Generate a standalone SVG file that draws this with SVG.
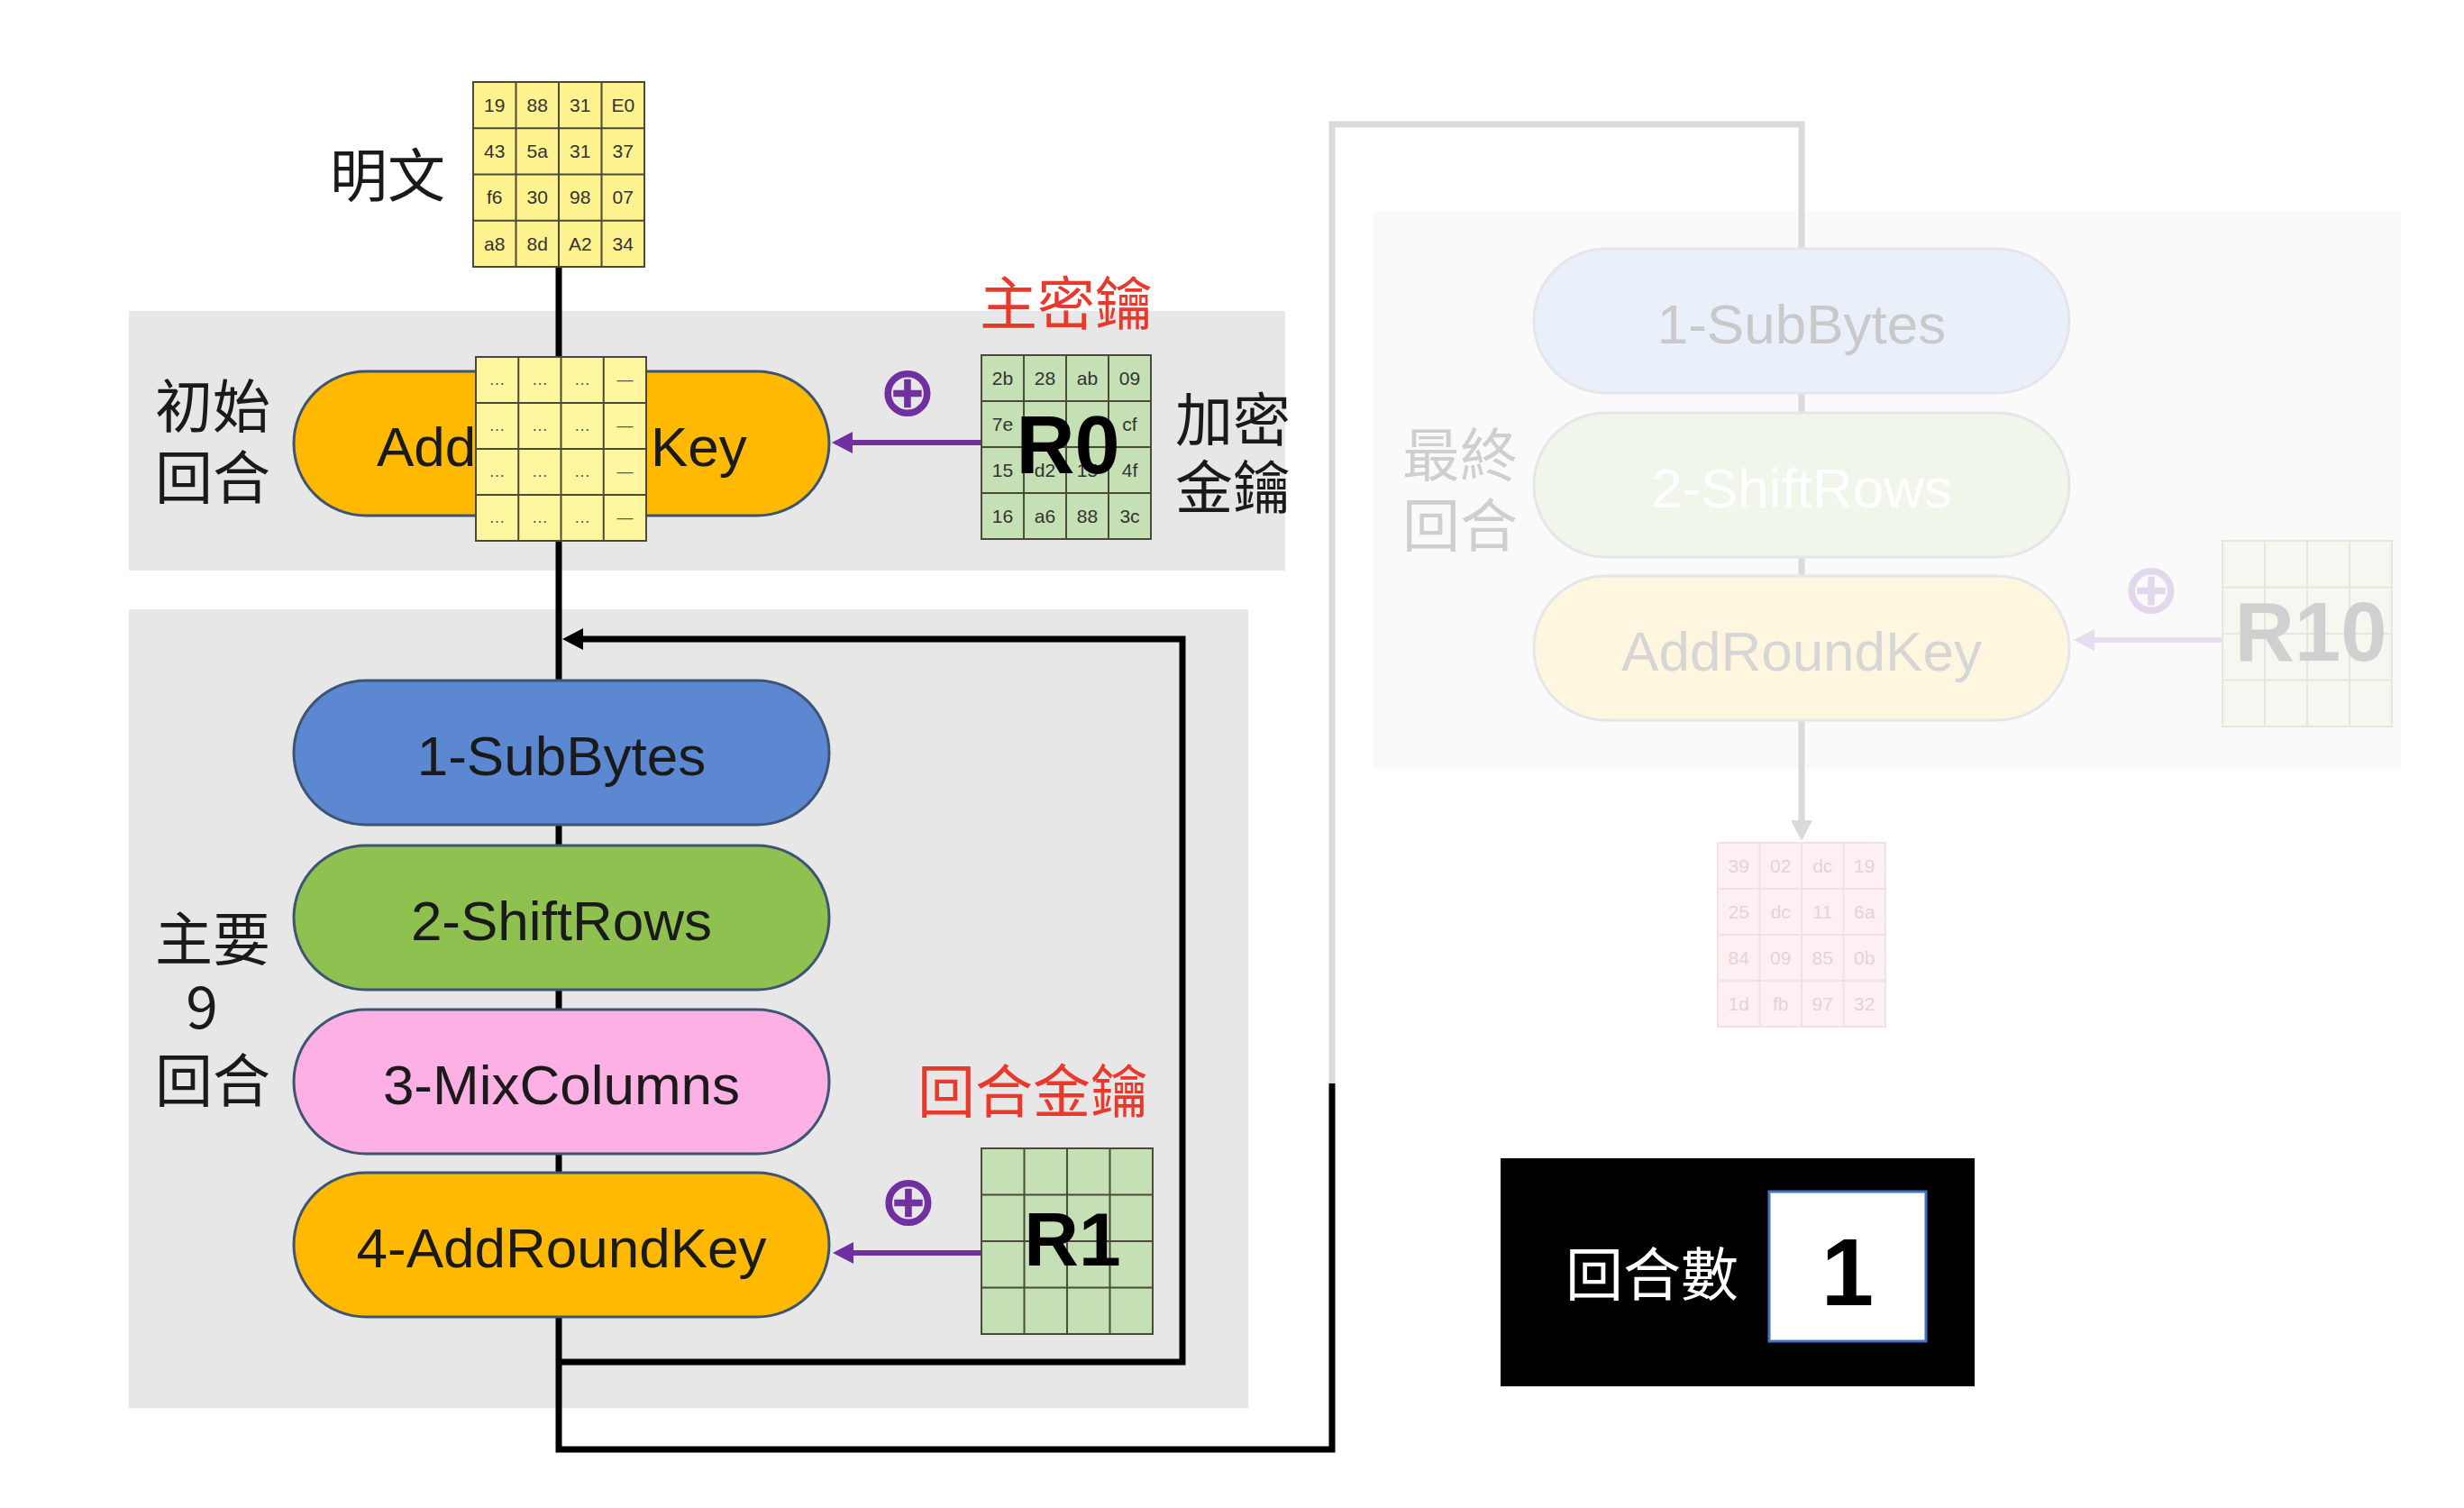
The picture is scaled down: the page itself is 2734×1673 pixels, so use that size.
<svg xmlns="http://www.w3.org/2000/svg" width="2734" height="1673" viewBox="0 0 2734 1673">
<defs>
<style>
.cjk{font-family:"Noto Sans CJK TC","Noto Sans CJK SC",sans-serif;font-size:64px;fill:#1a1a1a}
.red{fill:#E8392C}
.lbl{font-family:"Liberation Sans",Arial,sans-serif;font-size:62px;text-anchor:middle;fill:#1a1a1a}
.cell{font-family:"Liberation Sans",Arial,sans-serif;font-size:21px;text-anchor:middle;fill:#333}
.big{font-family:"Liberation Sans",Arial,sans-serif;font-weight:bold;text-anchor:middle;fill:#000}
.xor{font-family:"DejaVu Sans",sans-serif;font-weight:bold;font-size:78px;text-anchor:middle;fill:#7030A0}
.gl{stroke:#4a4a3a;stroke-width:2;fill:none}
.pill{stroke:#3D5573;stroke-width:3}
.fpill{stroke:#E4E6EA;stroke-width:3}
.blk{fill:none;stroke:#000;stroke-width:7}
.gry{fill:none;stroke:#DADADA;stroke-width:7}
.pur{fill:none;stroke:#7030A0;stroke-width:6}
.fpur{fill:none;stroke:#E6DEF0;stroke-width:6}
</style>
<marker id="ahBlk" viewBox="0 -12 23 24" refX="0" refY="0" markerWidth="23" markerHeight="24" markerUnits="userSpaceOnUse" orient="auto"><path d="M0,-12 L23,0 L0,12 z" fill="#000"/></marker>
<marker id="ahGry" viewBox="0 -12 23 24" refX="0" refY="0" markerWidth="23" markerHeight="24" markerUnits="userSpaceOnUse" orient="auto"><path d="M0,-12 L23,0 L0,12 z" fill="#DADADA"/></marker>
<marker id="ahPur" viewBox="0 -12 23 24" refX="0" refY="0" markerWidth="23" markerHeight="24" markerUnits="userSpaceOnUse" orient="auto"><path d="M0,-12 L23,0 L0,12 z" fill="#7030A0"/></marker>
<marker id="ahFPur" viewBox="0 -12 23 24" refX="0" refY="0" markerWidth="23" markerHeight="24" markerUnits="userSpaceOnUse" orient="auto"><path d="M0,-12 L23,0 L0,12 z" fill="#E6DEF0"/></marker>
</defs>
<rect width="2734" height="1673" fill="#fff"/>

<!-- background panels -->
<g id="panel-initial"><rect x="143" y="345" width="1283" height="288" fill="#E7E7E7"/></g>
<g id="panel-main"><rect x="143" y="676" width="1242" height="886" fill="#E7E7E7"/></g>
<g id="panel-final"><rect x="1524" y="234" width="1140" height="618" fill="#FAFAFA"/></g>

<!-- connectors -->
<g id="connectors">
<path class="blk" d="M620 296 V1608 H1478 V1202"/>
<path class="blk" d="M620 1511 H1312 V709 H647" marker-end="url(#ahBlk)"/>
<path class="gry" d="M1478 1202 V138 H1999 V910" marker-end="url(#ahGry)"/>
<path class="pur" d="M1089 491 H946" marker-end="url(#ahPur)"/>
<path class="pur" d="M1089 1390 H947" marker-end="url(#ahPur)"/>
<path class="fpur" d="M2466 710 H2324" marker-end="url(#ahFPur)"/>
</g>

<!-- plaintext -->
<g id="plaintext">
<text class="cjk" x="366" y="218">明文</text>
<rect x="525" y="91" width="190" height="205" fill="#FFF38F"/>
<path class="gl" d="M525 91 H715 V296 H525 Z M572.5 91 V296 M620 91 V296 M667.5 91 V296 M525 142.25 H715 M525 193.5 H715 M525 244.75 H715"/>
<g class="cell">
<text x="548.75" y="124">19</text><text x="596.25" y="124">88</text><text x="643.75" y="124">31</text><text x="691.25" y="124">E0</text>
<text x="548.75" y="175">43</text><text x="596.25" y="175">5a</text><text x="643.75" y="175">31</text><text x="691.25" y="175">37</text>
<text x="548.75" y="226">f6</text><text x="596.25" y="226">30</text><text x="643.75" y="226">98</text><text x="691.25" y="226">07</text>
<text x="548.75" y="278">a8</text><text x="596.25" y="278">8d</text><text x="643.75" y="278">A2</text><text x="691.25" y="278">34</text>
</g>
</g>

<!-- initial round -->
<g id="initial-round-label"><text class="cjk" x="172" y="474">初始</text><text class="cjk" x="172" y="553">回合</text></g>
<g id="initial-addroundkey">
<rect class="pill" x="326" y="412" width="594" height="160" rx="80" fill="#FFB900"/>
<text class="lbl" x="418" y="517" style="text-anchor:start">Add</text>
<text class="lbl" x="722" y="517" style="text-anchor:start">Key</text>
</g>
<g id="state-mask">
<rect x="528" y="396" width="189" height="204" fill="#FFF7A0"/>
<path class="gl" d="M528 396 H717 V600 H528 Z M575.25 396 V600 M622.5 396 V600 M669.75 396 V600 M528 447 H717 M528 498 H717 M528 549 H717"/>
<g class="cell" style="font-size:18px;fill:#555">
<text x="551.6" y="427">…</text><text x="598.9" y="427">…</text><text x="646.1" y="427">…</text><text x="693.4" y="427">—</text>
<text x="551.6" y="478">…</text><text x="598.9" y="478">…</text><text x="646.1" y="478">…</text><text x="693.4" y="478">—</text>
<text x="551.6" y="529">…</text><text x="598.9" y="529">…</text><text x="646.1" y="529">…</text><text x="693.4" y="529">—</text>
<text x="551.6" y="580">…</text><text x="598.9" y="580">…</text><text x="646.1" y="580">…</text><text x="693.4" y="580">—</text>
</g>
</g>
<g id="key-r0">
<text class="cjk red" x="1183" y="360" text-anchor="middle">主密鑰</text>
<rect x="1089" y="394" width="188" height="204" fill="#C5E0B4"/>
<path class="gl" d="M1089 394 H1277 V598 H1089 Z M1136 394 V598 M1183 394 V598 M1230 394 V598 M1089 445 H1277 M1089 496 H1277 M1089 547 H1277"/>
<g class="cell">
<text x="1112.5" y="427">2b</text><text x="1159.5" y="427">28</text><text x="1206.5" y="427">ab</text><text x="1253.5" y="427">09</text>
<text x="1112.5" y="478">7e</text><text x="1253.5" y="478">cf</text>
<text x="1112.5" y="529">15</text><text x="1159.5" y="529">d2</text><text x="1206.5" y="529">15</text><text x="1253.5" y="529">4f</text>
<text x="1112.5" y="580">16</text><text x="1159.5" y="580">a6</text><text x="1206.5" y="580">88</text><text x="1253.5" y="580">3c</text>
</g>
<text class="big" x="1185" y="525" font-size="90">R0</text>
<text class="cjk" x="1304" y="489">加密</text><text class="cjk" x="1304" y="564">金鑰</text>
</g>
<g id="xor-r0"><text class="xor" x="1007" y="461">⊕</text></g>

<!-- main rounds -->
<g id="main-round-label">
<text class="cjk" x="236" y="1065" text-anchor="middle">主要</text>
<text class="cjk" x="224" y="1141" text-anchor="middle">9</text>
<text class="cjk" x="236" y="1222" text-anchor="middle">回合</text>
</g>
<g id="subbytes"><rect class="pill" x="326" y="755" width="594" height="160" rx="80" fill="#5B88D1"/><text class="lbl" x="623" y="860">1-SubBytes</text></g>
<g id="shiftrows"><rect class="pill" x="326" y="938" width="594" height="160" rx="80" fill="#8FC150"/><text class="lbl" x="623" y="1043">2-ShiftRows</text></g>
<g id="mixcolumns"><rect class="pill" x="326" y="1120" width="594" height="160" rx="80" fill="#FDB0E3"/><text class="lbl" x="623" y="1225">3-MixColumns</text></g>
<g id="addroundkey"><rect class="pill" x="326" y="1301" width="594" height="160" rx="80" fill="#FFB900"/><text class="lbl" x="623" y="1406">4-AddRoundKey</text></g>
<g id="key-r1">
<text class="cjk red" x="1146" y="1234" text-anchor="middle">回合金鑰</text>
<rect x="1089" y="1274" width="190" height="206" fill="#C5E0B4"/>
<path class="gl" d="M1089 1274 H1279 V1480 H1089 Z M1136.5 1274 V1480 M1184 1274 V1480 M1231.5 1274 V1480 M1089 1325.5 H1279 M1089 1377 H1279 M1089 1428.5 H1279"/>
<text class="big" x="1190" y="1404" font-size="84">R1</text>
</g>
<g id="xor-r1"><text class="xor" x="1008" y="1359">⊕</text></g>

<!-- final round (faded) -->
<g id="final-round-label"><text class="cjk" x="1556" y="528" style="fill:#CFCFCF">最終</text><text class="cjk" x="1556" y="606" style="fill:#CFCFCF">回合</text></g>
<g id="final-subbytes"><rect class="fpill" x="1702" y="276" width="594" height="160" rx="80" fill="#EAF0FA"/><text class="lbl" x="1999" y="381" style="fill:#C9C9C9">1-SubBytes</text></g>
<g id="final-shiftrows"><rect class="fpill" x="1702" y="458" width="594" height="160" rx="80" fill="#F0F6EA"/><text class="lbl" x="1999" y="563" style="fill:#FFFFFF">2-ShiftRows</text></g>
<g id="final-addroundkey"><rect class="fpill" x="1702" y="639" width="594" height="160" rx="80" fill="#FFF6E0"/><text class="lbl" x="1999" y="744" style="fill:#D6D6D6">AddRoundKey</text></g>
<g id="key-r10">
<rect x="2466" y="600" width="188" height="206" fill="#F4F8F0"/>
<path d="M2466 600 H2654 V806 H2466 Z M2513 600 V806 M2560 600 V806 M2607 600 V806 M2466 651.5 H2654 M2466 703 H2654 M2466 754.5 H2654" fill="none" stroke="#E2E8DC" stroke-width="2"/>
<text class="big" x="2564" y="733" font-size="92" style="fill:#D0D0D0">R10</text>
</g>
<g id="xor-r10"><text class="xor" x="2387" y="680" style="fill:#E2D8EE">⊕</text></g>
<g id="ciphertext">
<rect x="1906" y="935" width="186" height="204" fill="#FDF0F3"/>
<path d="M1906 935 H2092 V1139 H1906 Z M1952.5 935 V1139 M1999 935 V1139 M2045.5 935 V1139 M1906 986 H2092 M1906 1037 H2092 M1906 1088 H2092" fill="none" stroke="#F3E0E4" stroke-width="2"/>
<g class="cell" style="fill:#E6D2D6">
<text x="1929.25" y="968">39</text><text x="1975.75" y="968">02</text><text x="2022.25" y="968">dc</text><text x="2068.75" y="968">19</text>
<text x="1929.25" y="1019">25</text><text x="1975.75" y="1019">dc</text><text x="2022.25" y="1019">11</text><text x="2068.75" y="1019">6a</text>
<text x="1929.25" y="1070">84</text><text x="1975.75" y="1070">09</text><text x="2022.25" y="1070">85</text><text x="2068.75" y="1070">0b</text>
<text x="1929.25" y="1121">1d</text><text x="1975.75" y="1121">fb</text><text x="2022.25" y="1121">97</text><text x="2068.75" y="1121">32</text>
</g>
</g>

<!-- round counter -->
<g id="round-counter">
<rect x="1665" y="1285" width="526" height="253" fill="#000"/>
<text class="cjk" x="1737" y="1437" style="fill:#fff">回合數</text>
<rect x="1963" y="1322" width="174" height="166" fill="#fff" stroke="#4472C4" stroke-width="3"/>
<text class="big" x="2050" y="1448" font-size="105">1</text>
</g>
</svg>
